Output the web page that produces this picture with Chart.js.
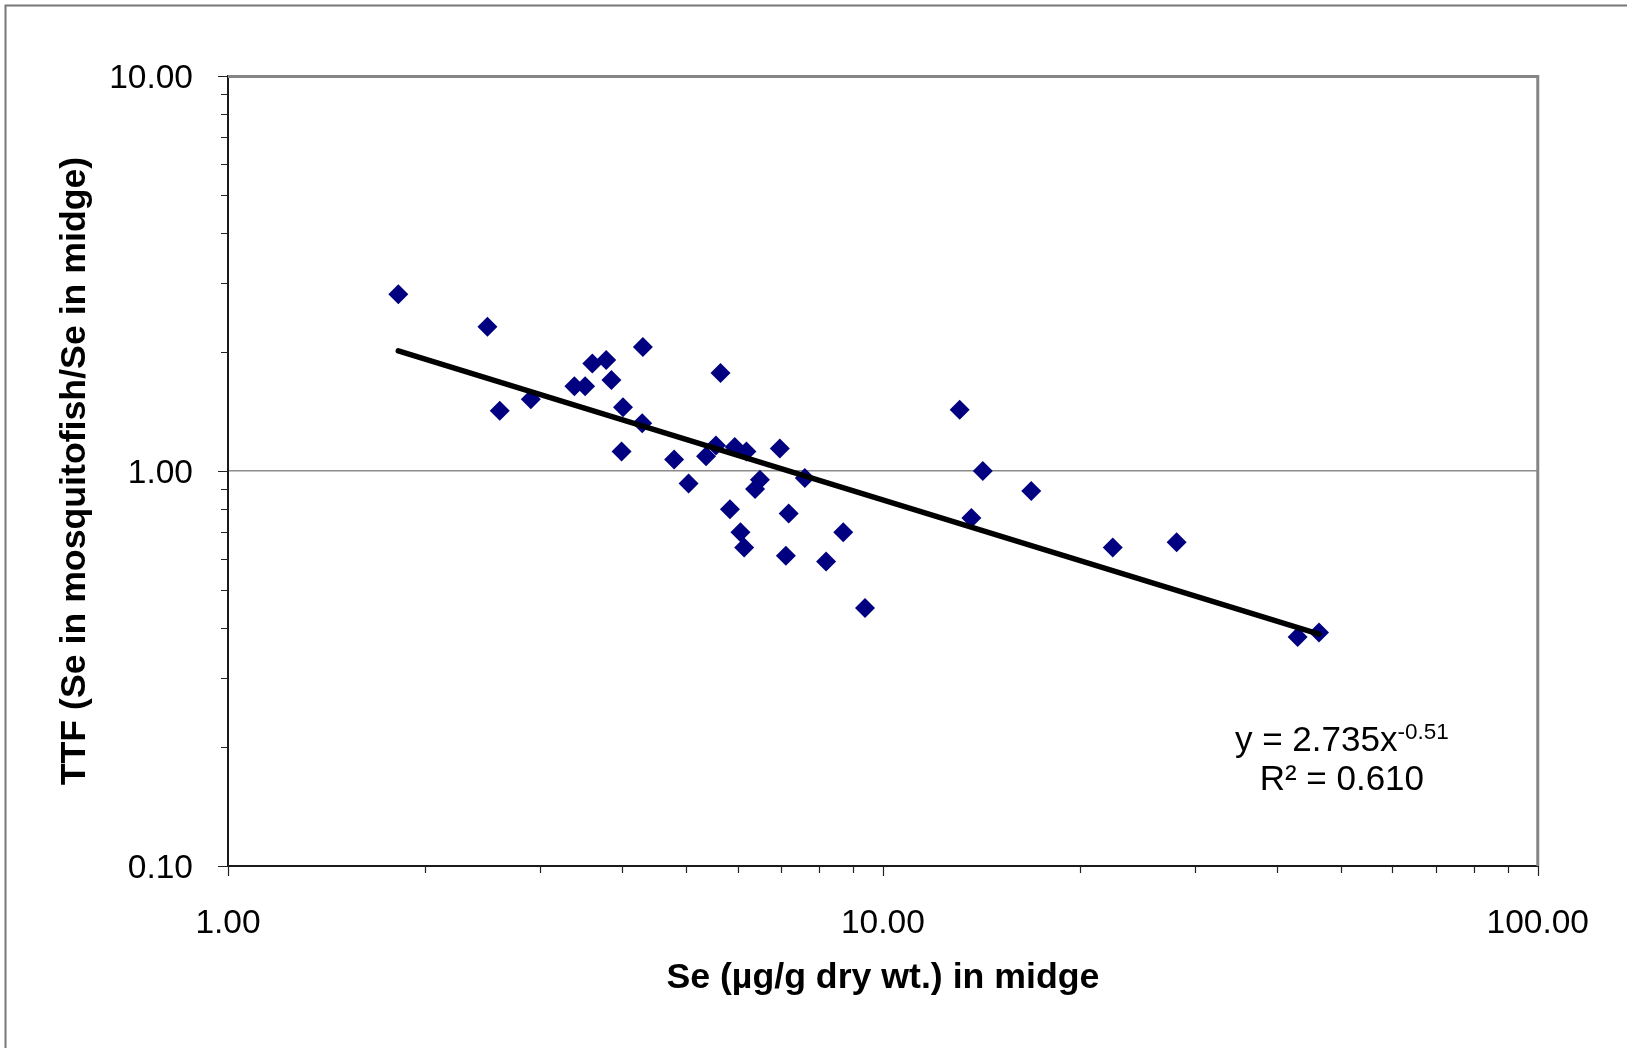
<!DOCTYPE html>
<html>
<head>
<meta charset="utf-8">
<title>TTF vs Se in midge</title>
<script src="https://cdn.jsdelivr.net/npm/chart.js@4.4.1/dist/chart.umd.min.js"></script>
<style>
  html, body { margin: 0; padding: 0; background: #fff; }
  #wrap { width: 1627px; height: 1048px; }
</style>
</head>
<body>
<div id="wrap"><canvas id="ttfChart" width="1627" height="1048"></canvas></div>
<script>
// Se in midge (µg/g dry wt.) and trophic transfer factor, one entry per sample
const seMidge = [1.82, 2.49, 2.60, 2.90, 3.38, 3.51, 3.60, 3.78, 3.85, 3.99,
                 4.01, 4.29, 4.30, 4.80, 5.05, 5.37, 5.56, 5.65, 5.84, 5.94,
                 6.06, 6.14, 6.19, 6.38, 6.49, 6.96, 7.11, 7.18, 7.60, 8.19,
                 8.70, 9.39, 13.10, 13.65, 14.21, 16.85, 22.44, 28.09, 42.98, 46.34];
const ttf = [2.80, 2.32, 1.42, 1.52, 1.64, 1.64, 1.87, 1.91, 1.70, 1.12,
             1.45, 1.32, 2.06, 1.07, 0.93, 1.09, 1.16, 1.77, 0.80, 1.15,
             0.70, 0.64, 1.12, 0.90, 0.95, 1.14, 0.61, 0.78, 0.96, 0.59,
             0.70, 0.45, 1.43, 0.76, 1.00, 0.89, 0.64, 0.66, 0.38, 0.39];

// labelled decades on each log axis
const xMajorTicks = [1, 10, 100];
const yMajorTicks = [0.1, 1, 10];

// power trend line y = a * x^b
const fitA = 2.735;
const fitB = -0.51;
const fitR2 = 0.610;

const FONT = '"Liberation Sans", Arial, sans-serif';

const points = seMidge.map((x, i) => ({ x: x, y: ttf[i] }));
const xLo = Math.min(...seMidge), xHi = Math.max(...seMidge);
const trend = [xLo, xHi].map(x => ({ x: x, y: fitA * Math.pow(x, fitB) }));

// decade ticks plus the 2..9 minor marks in between
function logMarks(majors) {
  const out = [];
  for (let i = 0; i < majors.length - 1; i++) {
    for (let m = 1; m < 10; m++) out.push({ v: majors[i] * m, major: m === 1 });
  }
  out.push({ v: majors[majors.length - 1], major: true });
  return out;
}

const excelFrame = {
  id: 'excelFrame',
  beforeDraw(chart) {
    const ctx = chart.ctx;
    ctx.save();
    ctx.fillStyle = '#fff';
    ctx.fillRect(0, 0, chart.width, chart.height);
    ctx.strokeStyle = '#777';
    ctx.lineWidth = 2;
    ctx.strokeRect(5.5, 5.5, chart.width + 20, chart.height + 20);
    ctx.restore();
  },
  afterDraw(chart) {
    const ctx = chart.ctx;
    const a = chart.chartArea;
    const xs = chart.scales.x, ys = chart.scales.y;
    ctx.save();

    // grey top and right edges of the plot area
    ctx.strokeStyle = '#858585';
    ctx.lineWidth = 3;
    ctx.beginPath();
    ctx.moveTo(a.left, a.top + 0.5);
    ctx.lineTo(a.right, a.top + 0.5);
    ctx.lineTo(a.right, a.bottom);
    ctx.stroke();

    // outside tick marks
    ctx.strokeStyle = '#222';
    ctx.lineWidth = 1.2;
    ctx.beginPath();
    logMarks(yMajorTicks).forEach(t => {
      const py = Math.round(ys.getPixelForValue(t.v)) + 0.5;
      ctx.moveTo(a.left - (t.major ? 10 : 7), py);
      ctx.lineTo(a.left, py);
    });
    logMarks(xMajorTicks).forEach(t => {
      const px = Math.round(xs.getPixelForValue(t.v)) + 0.5;
      ctx.moveTo(px, a.bottom);
      ctx.lineTo(px, a.bottom + (t.major ? 10 : 7));
    });
    ctx.stroke();

    // trend line equation
    const cx = a.left + 0.8504 * (a.right - a.left);
    const y1 = a.top + 0.854 * (a.bottom - a.top);
    const y2 = a.top + 0.904 * (a.bottom - a.top);
    const main = 'y = ' + fitA.toFixed(3) + 'x';
    const sup = fitB.toFixed(2);
    const r2 = 'R² = ' + fitR2.toFixed(3);
    ctx.fillStyle = '#000';
    ctx.textBaseline = 'alphabetic';
    ctx.textAlign = 'left';
    ctx.font = '35px ' + FONT;
    const wMain = ctx.measureText(main).width;
    const wR2 = ctx.measureText(r2).width;
    ctx.font = '22.5px ' + FONT;
    const wSup = ctx.measureText(sup).width;
    const x1 = cx - (wMain + wSup) / 2;
    ctx.font = '35px ' + FONT;
    ctx.fillText(main, x1, y1);
    ctx.fillText(r2, cx - wR2 / 2, y2);
    ctx.font = '22.5px ' + FONT;
    ctx.fillText(sup, x1 + wMain, y1 - 12);
    ctx.restore();
  }
};

const ctx = document.getElementById('ttfChart').getContext('2d');
new Chart(ctx, {
  type: 'scatter',
  data: {
    datasets: [{
      label: 'Power trend',
      data: trend,
      showLine: true,
      borderColor: '#000',
      borderWidth: 5.5,
      borderCapStyle: 'round',
      pointRadius: 0,
      order: 0
    }, {
      label: 'TTF',
      data: points,
      pointStyle: 'rectRot',
      pointRadius: 10,
      pointBorderWidth: 0,
      backgroundColor: '#000080',
      borderColor: '#000080',
      order: 1
    }]
  },
  options: {
    responsive: false,
    animation: false,
    events: [],
    layout: { padding: { top: 76, right: 89, left: 0, bottom: 0 } },
    plugins: {
      legend: { display: false },
      tooltip: { enabled: false }
    },
    scales: {
      x: {
        type: 'logarithmic',
        min: 1,
        max: 100,
        afterBuildTicks: s => { s.ticks = xMajorTicks.map(v => ({ value: v })); },
        afterFit: s => { s.height = 182; },
        grid: { display: false, drawTicks: false },
        border: { display: true, color: '#1a1a1a', width: 2 },
        ticks: {
          padding: 38,
          color: '#000',
          maxRotation: 0,
          autoSkip: false,
          font: { family: FONT, size: 33.5 },
          callback: v => Number(v).toFixed(2)
        },
        title: {
          display: true,
          text: 'Se (µg/g dry wt.) in midge',
          color: '#000',
          font: { family: FONT, size: 35.7, weight: 'bold' },
          padding: { top: 0, bottom: 48 }
        }
      },
      y: {
        type: 'logarithmic',
        min: 0.1,
        max: 10,
        afterBuildTicks: s => { s.ticks = yMajorTicks.map(v => ({ value: v })); },
        afterFit: s => { s.width = 228; },
        grid: {
          drawTicks: false,
          lineWidth: 1.5,
          color: c => (c.tick && c.tick.value === 1) ? '#8c8c8c' : 'rgba(0,0,0,0)'
        },
        border: { display: true, color: '#1a1a1a', width: 2 },
        ticks: {
          padding: 35,
          labelOffset: 3,
          color: '#000',
          autoSkip: false,
          font: { family: FONT, size: 33.5 },
          callback: v => Number(v).toFixed(2)
        },
        title: {
          display: true,
          text: 'TTF (Se in mosquitofish/Se in midge)',
          color: '#000',
          font: { family: FONT, size: 35.7, weight: 'bold' },
          padding: { top: 54, bottom: 0 }
        }
      }
    }
  },
  plugins: [excelFrame]
});
</script>
</body>
</html>
